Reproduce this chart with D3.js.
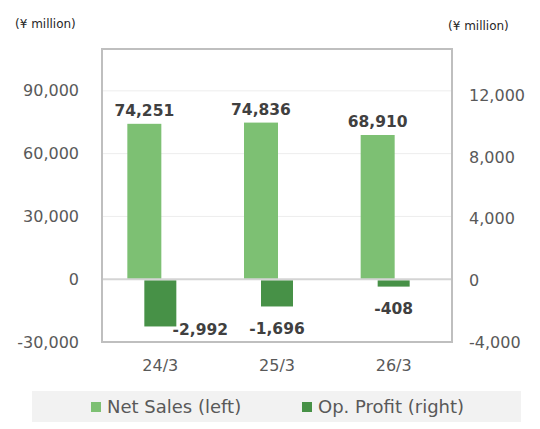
<!DOCTYPE html>
<html>
<head>
<meta charset="utf-8">
<script src="https://cdn.jsdelivr.net/npm/d3@7"></script>
<style>
  body { margin: 0; background: #fff; }
  text { font-family: "DejaVu Sans", sans-serif; }
</style>
</head>
<body>
<div id="chart"></div>
<script>

// data
var categories = ["24/3", "25/3", "26/3"];
var netSales = [74251, 74836, 68910];
var opProfit = [-2992, -1696, -408];
var leftTicks = [-30000, 0, 30000, 60000, 90000];
var rightTicks = [-4000, 0, 4000, 8000, 12000];
var seriesNames = ["Net Sales (left)", "Op. Profit (right)"];
var seriesColors = ["#7dc073", "#479147"];

var W = 540, H = 429;
var plot = {left: 102, top: 49, right: 452, bottom: 342};

var fmt = d3.formatLocale({decimal: ".", thousands: ",", grouping: [3], currency: ["", ""], minus: "-"}).format(",");

var svg = d3.select("#chart")
  .append("svg")
    .attr("width", W)
    .attr("height", H);

// scales
var x = d3.scaleBand()
  .domain(categories)
  .range([plot.left, plot.right])
  .padding(0);

var yL = d3.scaleLinear()
  .domain([-30000, 110000])
  .range([plot.bottom, plot.top]);

var yR = d3.scaleLinear()
  .domain([-4000, 15000])
  .range([plot.bottom, plot.top]);

// gridlines
svg.append("g")
  .selectAll("line")
  .data(leftTicks.filter(function(d) { return d > 0; }))
  .enter().append("line")
    .attr("x1", plot.left)
    .attr("x2", plot.right)
    .attr("y1", function(d) { return yL(d); })
    .attr("y2", function(d) { return yL(d); })
    .style("stroke", "#ededed")
    .style("stroke-width", 1);

// left axis
var gl = svg.append("g")
  .attr("transform", "translate(" + plot.left + ",0)")
  .call(d3.axisLeft(yL).tickValues(leftTicks).tickSize(0).tickPadding(23).tickFormat(fmt));
gl.select(".domain").remove();
gl.selectAll("text")
  .style("font-family", "DejaVu Sans")
  .style("font-size", "16px")
  .style("fill", "#595959");

// right axis
var gr = svg.append("g")
  .attr("transform", "translate(" + plot.right + ",0)")
  .call(d3.axisRight(yR).tickValues(rightTicks).tickSize(0).tickPadding(17).tickFormat(fmt));
gr.select(".domain").remove();
gr.selectAll("text")
  .style("font-family", "DejaVu Sans")
  .style("font-size", "16px")
  .style("fill", "#595959");

// bottom category labels
var gb = svg.append("g")
  .attr("transform", "translate(0," + plot.bottom + ")")
  .call(d3.axisBottom(x).tickSize(0).tickPadding(18));
gb.select(".domain").remove();
gb.selectAll("text")
  .style("font-family", "DejaVu Sans")
  .style("font-size", "16px")
  .style("fill", "#595959");

// net sales bars (left axis), drawn left of the category centre
var salesW = 34, profitW = 32;
svg.append("g")
  .selectAll("rect")
  .data(netSales)
  .enter().append("rect")
    .attr("x", function(d, i) { return x(categories[i]) + x.bandwidth() / 2 - 33; })
    .attr("y", function(d) { return yL(d); })
    .attr("width", salesW)
    .attr("height", function(d) { return yL(0) - yL(d); })
    .style("fill", seriesColors[0]);

// op profit bars (right axis), centred on the category
svg.append("g")
  .selectAll("rect")
  .data(opProfit)
  .enter().append("rect")
    .attr("x", function(d, i) { return x(categories[i]) + x.bandwidth() / 2 - profitW / 2; })
    .attr("y", function(d) { return yR(Math.max(0, d)); })
    .attr("width", profitW)
    .attr("height", function(d) { return Math.abs(yR(d) - yR(0)); })
    .style("fill", seriesColors[1]);

// zero line
svg.append("line")
  .attr("x1", plot.left)
  .attr("x2", plot.right)
  .attr("y1", yL(0))
  .attr("y2", yL(0))
  .style("stroke", "#d4d4d4")
  .style("stroke-width", 2);

// plot frame
svg.append("rect")
  .attr("x", plot.left)
  .attr("y", plot.top)
  .attr("width", plot.right - plot.left)
  .attr("height", plot.bottom - plot.top)
  .style("fill", "none")
  .style("stroke", "#bfbfbf")
  .style("stroke-width", 2);

// value labels
svg.append("g")
  .selectAll("text")
  .data(netSales)
  .enter().append("text")
    .attr("x", function(d, i) { return x(categories[i]) + x.bandwidth() / 2 - 33 + salesW / 2; })
    .attr("y", function(d) { return yL(d) - 8; })
    .attr("text-anchor", "middle")
    .style("font-size", "15.5px")
    .style("font-weight", "bold")
    .style("fill", "#404040")
    .text(fmt);

var maxLabelY = plot.bottom - 13;
svg.append("g")
  .selectAll("text")
  .data(opProfit)
  .enter().append("text")
    .attr("x", function(d, i) {
      var cx = x(categories[i]) + x.bandwidth() / 2;
      // labels that would fall outside the plot are pushed to the right of the bar
      return (yR(d) + 22 > maxLabelY) ? cx + 40 : cx;
    })
    .attr("y", function(d) { return Math.min(yR(d) + 22, maxLabelY) + 5.5; })
    .attr("text-anchor", "middle")
    .style("font-size", "15.5px")
    .style("font-weight", "bold")
    .style("fill", "#404040")
    .text(fmt);

// unit notes
svg.append("text")
  .attr("x", 15)
  .attr("y", 28)
  .style("font-size", "12px")
  .style("fill", "#262626")
  .text("(¥ million)");

svg.append("text")
  .attr("x", 448)
  .attr("y", 30)
  .style("font-size", "12px")
  .style("fill", "#262626")
  .text("(¥ million)");

// legend
var legend = svg.append("g");
legend.append("rect")
  .attr("x", 32)
  .attr("y", 391)
  .attr("width", 489)
  .attr("height", 31)
  .style("fill", "#f2f2f2");

var legendX = [91, 302];
var items = legend.selectAll("g.item")
  .data(seriesNames)
  .enter().append("g")
    .attr("class", "item")
    .attr("transform", function(d, i) { return "translate(" + legendX[i] + ",0)"; });
items.append("rect")
  .attr("x", 0)
  .attr("y", 402)
  .attr("width", 10)
  .attr("height", 10)
  .style("fill", function(d, i) { return seriesColors[i]; });
items.append("text")
  .attr("x", 16)
  .attr("y", 413)
  .style("font-size", "18px")
  .style("fill", "#595959")
  .text(function(d) { return d; });

</script>
</body>
</html>
